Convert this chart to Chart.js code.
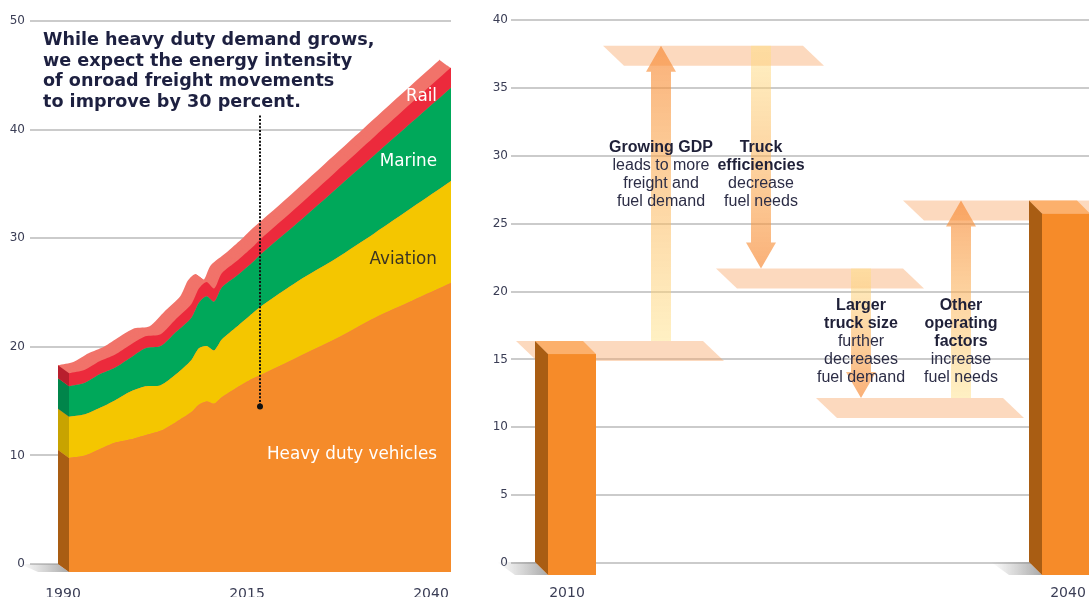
<!DOCTYPE html>
<html lang="en">
<head>
<meta charset="utf-8">
<title>Freight energy demand</title>
<script src="https://cdn.jsdelivr.net/npm/chart.js@4.4.1/dist/chart.umd.min.js"></script>
<style>
  html, body { margin: 0; padding: 0; background: #fff; overflow: hidden; }
  body { position: relative; width: 1089px; height: 597px; }
  .panel { position: absolute; top: 0; height: 597px; overflow: hidden; }
  #leftPanel { left: 0; width: 470px; }
  #leftPanel canvas { position: absolute; left: -8px; top: 0; }
  #rightPanel { left: 470px; width: 619px; }
  #rightPanel canvas { position: absolute; left: 0; top: 0; }
</style>
</head>
<body>
<div class="panel" id="leftPanel"><canvas id="modeChart" width="478" height="597"></canvas></div>
<div class="panel" id="rightPanel"><canvas id="stepChart" width="680" height="597"></canvas></div>
<script>
Chart.defaults.font.family = '"DejaVu Sans", sans-serif';

const TICK_COLOR = '#3a3d55';
const GRID_COLOR = '#cbcbcb';

// ---------- demand by mode, 1990-2040 ----------
const YEARS      = [1990, 1992, 1994, 1996, 1998, 2000, 2002, 2004, 2006, 2007, 2008, 2009, 2010, 2012, 2014, 2015, 2020, 2025, 2030, 2035, 2040];
const HEAVY_DUTY = [10.5, 10.7, 11.3, 11.9, 12.2, 12.6, 13.0, 13.8, 14.7, 15.4, 15.7, 15.5, 16.1, 17.0, 17.8, 18.1, 19.8, 21.5, 23.4, 25.0, 26.6];
const AVIATION   = [3.8, 3.8, 3.8, 3.9, 4.4, 4.5, 4.2, 4.4, 4.8, 5.2, 5.1, 4.9, 5.3, 5.6, 6.0, 6.3, 7.0, 7.4, 7.8, 8.6, 9.4];
const MARINE     = [2.8, 2.9, 3.1, 3.0, 3.1, 3.5, 3.6, 3.9, 3.9, 4.2, 4.6, 4.5, 4.8, 4.7, 4.7, 4.8, 5.4, 6.4, 7.2, 7.9, 8.6];
const RAIL       = [1.2, 1.2, 1.2, 1.2, 1.2, 1.1, 1.1, 1.2, 1.25, 1.3, 1.3, 1.2, 1.3, 1.35, 1.4, 1.4, 1.5, 1.6, 1.7, 1.8, 1.85];
const MODE_NAMES = ['Heavy duty vehicles', 'Aviation', 'Marine', 'Rail'];
const YEAR_TICKS = [1990, 2015, 2040];

const MODE_COLORS = ['#f58b2a', '#f4c600', '#00a85a', '#ec2a3c'];
const MODE_SIDES  = ['#a95d13', '#c8a300', '#00854a', '#b81f2d'];
const MODE_TOP    = '#f1736a';
const DEPTH_X = 11, DEPTH_Y = 8;

const TITLE_LINES = [
  'While heavy duty demand grows,',
  'we expect the energy intensity',
  'of onroad freight movements',
  'to improve by 30 percent.',
];

// ---------- 2010 -> 2040 step-by-step ----------
const STEP_LABELS = ['2010', 'Growing GDP', 'Truck efficiencies', 'Larger truck size', 'Other operating factors', '2040'];
const LEVELS      = [16.35, 38.1, 21.7, 12.15, 26.7];   // demand after each step
const BAR_YEARS   = [2010, 2040];
const BAR_VALUES  = [16.35, 26.7];
const NOTES = [
  { bold: ['Growing GDP'], plain: ['leads to more', 'freight and', 'fuel demand'], top: 152 },
  { bold: ['Truck', 'efficiencies'], plain: ['decrease', 'fuel needs'], top: 152 },
  { bold: ['Larger', 'truck size'], plain: ['further', 'decreases', 'fuel demand'], top: 310 },
  { bold: ['Other', 'operating', 'factors'], plain: ['increase', 'fuel needs'], top: 310 },
];

const BAR_DX = 13, BAR_DY = 13;
const PLANE_DX = 21, PLANE_DY = 20;
const PLANE_COLOR = 'rgba(247, 165, 100, 0.42)';

function series(values) {
  return YEARS.map((x, i) => ({ x, y: values[i] }));
}

function fixedTicks(values) {
  return scale => { scale.ticks = values.map(value => ({ value })); };
}

// foot shadow to the left of an extruded shape
function footShadow(ctx, x0, base, dx, dy) {
  const g = ctx.createLinearGradient(x0 - 38, 0, x0 + dx, 0);
  g.addColorStop(0, 'rgba(150,150,150,0)');
  g.addColorStop(1, 'rgba(140,140,140,0.75)');
  ctx.fillStyle = g;
  ctx.beginPath();
  ctx.moveTo(x0 - 38, base);
  ctx.lineTo(x0, base);
  ctx.lineTo(x0 + dx, base + dy);
  ctx.lineTo(x0 - 20, base + dy);
  ctx.closePath();
  ctx.fill();
}

const extrude = {
  id: 'extrude',
  beforeDatasetsDraw(chart) {
    const { ctx } = chart;
    const n = chart.data.datasets.length;
    const top = chart.getDatasetMeta(n - 1);
    const pts = top.data;
    const base = chart.scales.y.getPixelForValue(0);
    const x0 = pts[0].x, x1 = pts[pts.length - 1].x;

    ctx.save();
    footShadow(ctx, x0, base, DEPTH_X, DEPTH_Y);

    // body: outline swept from back to front
    ctx.fillStyle = MODE_TOP;
    for (let k = 0; k <= DEPTH_X; k++) {
      const t = k / DEPTH_X;
      ctx.save();
      ctx.translate(DEPTH_X * t, DEPTH_Y * t);
      ctx.beginPath();
      top.dataset.path(ctx);
      ctx.lineTo(x1, base);
      ctx.lineTo(x0, base);
      ctx.closePath();
      ctx.fill();
      ctx.restore();
    }

    // left face, one band per mode
    let low = base;
    for (let i = 0; i < n; i++) {
      const high = chart.getDatasetMeta(i).data[0].y;
      ctx.fillStyle = MODE_SIDES[i];
      ctx.beginPath();
      ctx.moveTo(x0, low);
      ctx.lineTo(x0, high);
      ctx.lineTo(x0 + DEPTH_X, high + DEPTH_Y);
      ctx.lineTo(x0 + DEPTH_X, low + DEPTH_Y);
      ctx.closePath();
      ctx.fill();
      low = high;
    }
    ctx.restore();

    // front face is the regular dataset drawing, pushed forward
    ctx.save();
    ctx.translate(DEPTH_X, DEPTH_Y);
  },
  afterDatasetsDraw(chart) {
    chart.ctx.restore();
  },
  afterDraw(chart) {
    const { ctx } = chart;
    const xs = chart.scales.x, ys = chart.scales.y;
    ctx.save();

    // leader from the note down into the heavy duty band
    const lx = xs.getPixelForValue(2015) + DEPTH_X;
    const y1 = ys.getPixelForValue(41.3), y2 = ys.getPixelForValue(14.5);
    ctx.strokeStyle = '#111';
    ctx.lineWidth = 2;
    ctx.setLineDash([2, 1.6]);
    ctx.beginPath();
    ctx.moveTo(lx, y1);
    ctx.lineTo(lx, y2);
    ctx.stroke();
    ctx.setLineDash([]);
    ctx.fillStyle = '#111';
    ctx.beginPath();
    ctx.arc(lx, y2, 3, 0, Math.PI * 2);
    ctx.fill();

    ctx.font = 'bold 17.6px "DejaVu Sans"';
    ctx.fillStyle = '#1d2040';
    ctx.textBaseline = 'alphabetic';
    ctx.textAlign = 'left';
    TITLE_LINES.forEach((line, i) => ctx.fillText(line, 51, 45 + i * 20.7));

    // band labels, right aligned
    ctx.font = '16.8px "DejaVu Sans"';
    ctx.textAlign = 'right';
    const labelY = [459, 264, 166, 101];
    const labelFill = ['#ffffff', '#3b3422', '#ffffff', '#ffffff'];
    MODE_NAMES.forEach((name, i) => {
      ctx.fillStyle = labelFill[i];
      ctx.fillText(name, 445, labelY[i]);
    });
    ctx.restore();
  }
};

new Chart(document.getElementById('modeChart'), {
  type: 'line',
  data: {
    datasets: MODE_NAMES.map((label, i) => ({
      label,
      data: series([HEAVY_DUTY, AVIATION, MARINE, RAIL][i]),
      backgroundColor: MODE_COLORS[i],
      fill: i === 0 ? 'origin' : '-1',
      borderWidth: 0,
      pointRadius: 0,
      tension: 0.25,
      clip: false,
    })),
  },
  options: {
    responsive: false,
    animation: false,
    events: [],
    devicePixelRatio: 1,
    layout: { autoPadding: false, padding: { top: 21, right: 19, bottom: 0, left: 0 } },
    plugins: { legend: { display: false }, tooltip: { enabled: false } },
    scales: {
      x: { type: 'linear', display: false, offset: false, min: 1986.335, max: 2041.44 },
      xl: {
        type: 'linear', position: 'bottom', offset: false, min: 1985.516, max: 2042.717,
        grid: { display: false }, border: { display: false },
        afterBuildTicks: fixedTicks(YEAR_TICKS),
        afterFit: s => { s.height = 33; },
        ticks: { color: TICK_COLOR, font: { size: 14 }, padding: 14, callback: v => String(v) },
      },
      y: {
        stacked: true, min: 0, max: 50,
        grid: { color: GRID_COLOR, lineWidth: 2, drawTicks: false },
        border: { display: false },
        afterFit: s => { s.width = 38; },
        ticks: { stepSize: 10, color: TICK_COLOR, font: { size: 12 }, padding: 5 },
      },
    },
  },
  plugins: [extrude],
});

// ---------- waterfall ----------
function drawArrow(ctx, x, yFrom, yTo) {
  const up = yTo < yFrom;
  const headBase = up ? yTo + 26 : yTo - 26;
  const g = ctx.createLinearGradient(0, yFrom, 0, yTo);
  g.addColorStop(0, 'rgba(255, 224, 130, 0.48)');
  g.addColorStop(1, 'rgba(247, 135, 50, 0.66)');
  ctx.fillStyle = g;
  ctx.beginPath();
  ctx.moveTo(x - 10, yFrom);
  ctx.lineTo(x - 10, headBase);
  ctx.lineTo(x - 15, headBase);
  ctx.lineTo(x, yTo);
  ctx.lineTo(x + 15, headBase);
  ctx.lineTo(x + 10, headBase);
  ctx.lineTo(x + 10, yFrom);
  ctx.closePath();
  ctx.fill();
}

function drawBlock(ctx, el) {
  const w = el.width, x0 = el.x - w / 2, x1 = el.x + w / 2;
  const top = el.y, base = el.base;
  footShadow(ctx, x0, base, BAR_DX, BAR_DY);
  ctx.fillStyle = '#fcb06c';
  ctx.beginPath();
  ctx.moveTo(x0, top);
  ctx.lineTo(x1, top);
  ctx.lineTo(x1 + BAR_DX, top + BAR_DY);
  ctx.lineTo(x0 + BAR_DX, top + BAR_DY);
  ctx.closePath();
  ctx.fill();
  ctx.fillStyle = '#a95d13';
  ctx.beginPath();
  ctx.moveTo(x0, top);
  ctx.lineTo(x0 + BAR_DX, top + BAR_DY);
  ctx.lineTo(x0 + BAR_DX, base + BAR_DY);
  ctx.lineTo(x0, base);
  ctx.closePath();
  ctx.fill();
  ctx.fillStyle = '#f68b29';
  ctx.fillRect(x0 + BAR_DX, top + BAR_DY, w, base - top);
}

const stepsPlugin = {
  id: 'steps',
  beforeDatasetsDraw(chart) {
    const { ctx } = chart;
    const xc = chart.scales.xc, ys = chart.scales.y;
    ctx.save();
    ctx.fillStyle = PLANE_COLOR;
    LEVELS.forEach((v, i) => {
      const left = xc.getPixelForValue(i) - (i === 1 || i === 4 ? 58 : 45);
      const right = xc.getPixelForValue(i + 1) + 42;
      const py = ys.getPixelForValue(v);
      ctx.beginPath();
      ctx.moveTo(left, py);
      ctx.lineTo(right, py);
      ctx.lineTo(right + PLANE_DX, py + PLANE_DY);
      ctx.lineTo(left + PLANE_DX, py + PLANE_DY);
      ctx.closePath();
      ctx.fill();
    });
    ctx.restore();
  },
  afterDatasetsDraw(chart) {
    const { ctx } = chart;
    const ys = chart.scales.y;
    ctx.save();
    const changes = chart.data.datasets[1].data;
    chart.getDatasetMeta(1).data.forEach((el, i) => {
      const pair = changes[i];
      if (!pair) return;
      drawArrow(ctx, el.x, ys.getPixelForValue(pair[0]), ys.getPixelForValue(pair[1]));
    });
    chart.getDatasetMeta(0).data.forEach(el => drawBlock(ctx, el));
    ctx.restore();
  },
  afterDraw(chart) {
    const { ctx } = chart;
    const arrows = chart.getDatasetMeta(1).data;
    ctx.save();
    ctx.textAlign = 'center';
    ctx.textBaseline = 'alphabetic';
    NOTES.forEach((note, k) => {
      const x = arrows[k + 1].x;
      let y = note.top;
      ctx.font = 'bold 16px "Liberation Sans"';
      ctx.fillStyle = '#1f2038';
      note.bold.forEach(line => { ctx.fillText(line, x, y); y += 18; });
      ctx.font = '16px "Liberation Sans"';
      ctx.fillStyle = '#2c2d46';
      note.plain.forEach(line => { ctx.fillText(line, x, y); y += 18; });
    });
    ctx.restore();
  }
};

new Chart(document.getElementById('stepChart'), {
  type: 'bar',
  data: {
    labels: STEP_LABELS,
    datasets: [
      {
        label: 'Demand',
        xAxisID: 'xy',
        data: BAR_YEARS.map((x, i) => ({ x, y: BAR_VALUES[i] })),
        barThickness: 48,
        grouped: false,
        backgroundColor: 'rgba(0,0,0,0)',
      },
      {
        label: 'Change',
        xAxisID: 'xc',
        data: STEP_LABELS.map((_, i) => (i > 0 && i < STEP_LABELS.length - 1) ? [LEVELS[i - 1], LEVELS[i]] : null),
        barThickness: 20,
        grouped: false,
        backgroundColor: 'rgba(0,0,0,0)',
      },
    ],
  },
  options: {
    responsive: false,
    animation: false,
    events: [],
    devicePixelRatio: 1,
    layout: { autoPadding: false, padding: { top: 20, right: 39, bottom: 0, left: 0 } },
    plugins: { legend: { display: false }, tooltip: { enabled: false } },
    scales: {
      xc: { type: 'category', display: false, offset: true },
      xy: { type: 'linear', display: false, offset: false, min: 2007.085, max: 2043.522 },
      xl: {
        type: 'linear', position: 'bottom', offset: false, min: 2006.647, max: 2042.575,
        grid: { display: false }, border: { display: false },
        afterBuildTicks: fixedTicks(BAR_YEARS),
        afterFit: s => { s.height = 34; },
        ticks: { color: TICK_COLOR, font: { size: 14 }, padding: 14, callback: v => String(v) },
      },
      y: {
        min: 0, max: 40,
        grid: { color: GRID_COLOR, lineWidth: 2, drawTicks: false },
        border: { display: false },
        afterFit: s => { s.width = 41; },
        ticks: { stepSize: 5, color: TICK_COLOR, font: { size: 12 }, padding: 3 },
      },
    },
  },
  plugins: [stepsPlugin],
});
</script>
</body>
</html>
